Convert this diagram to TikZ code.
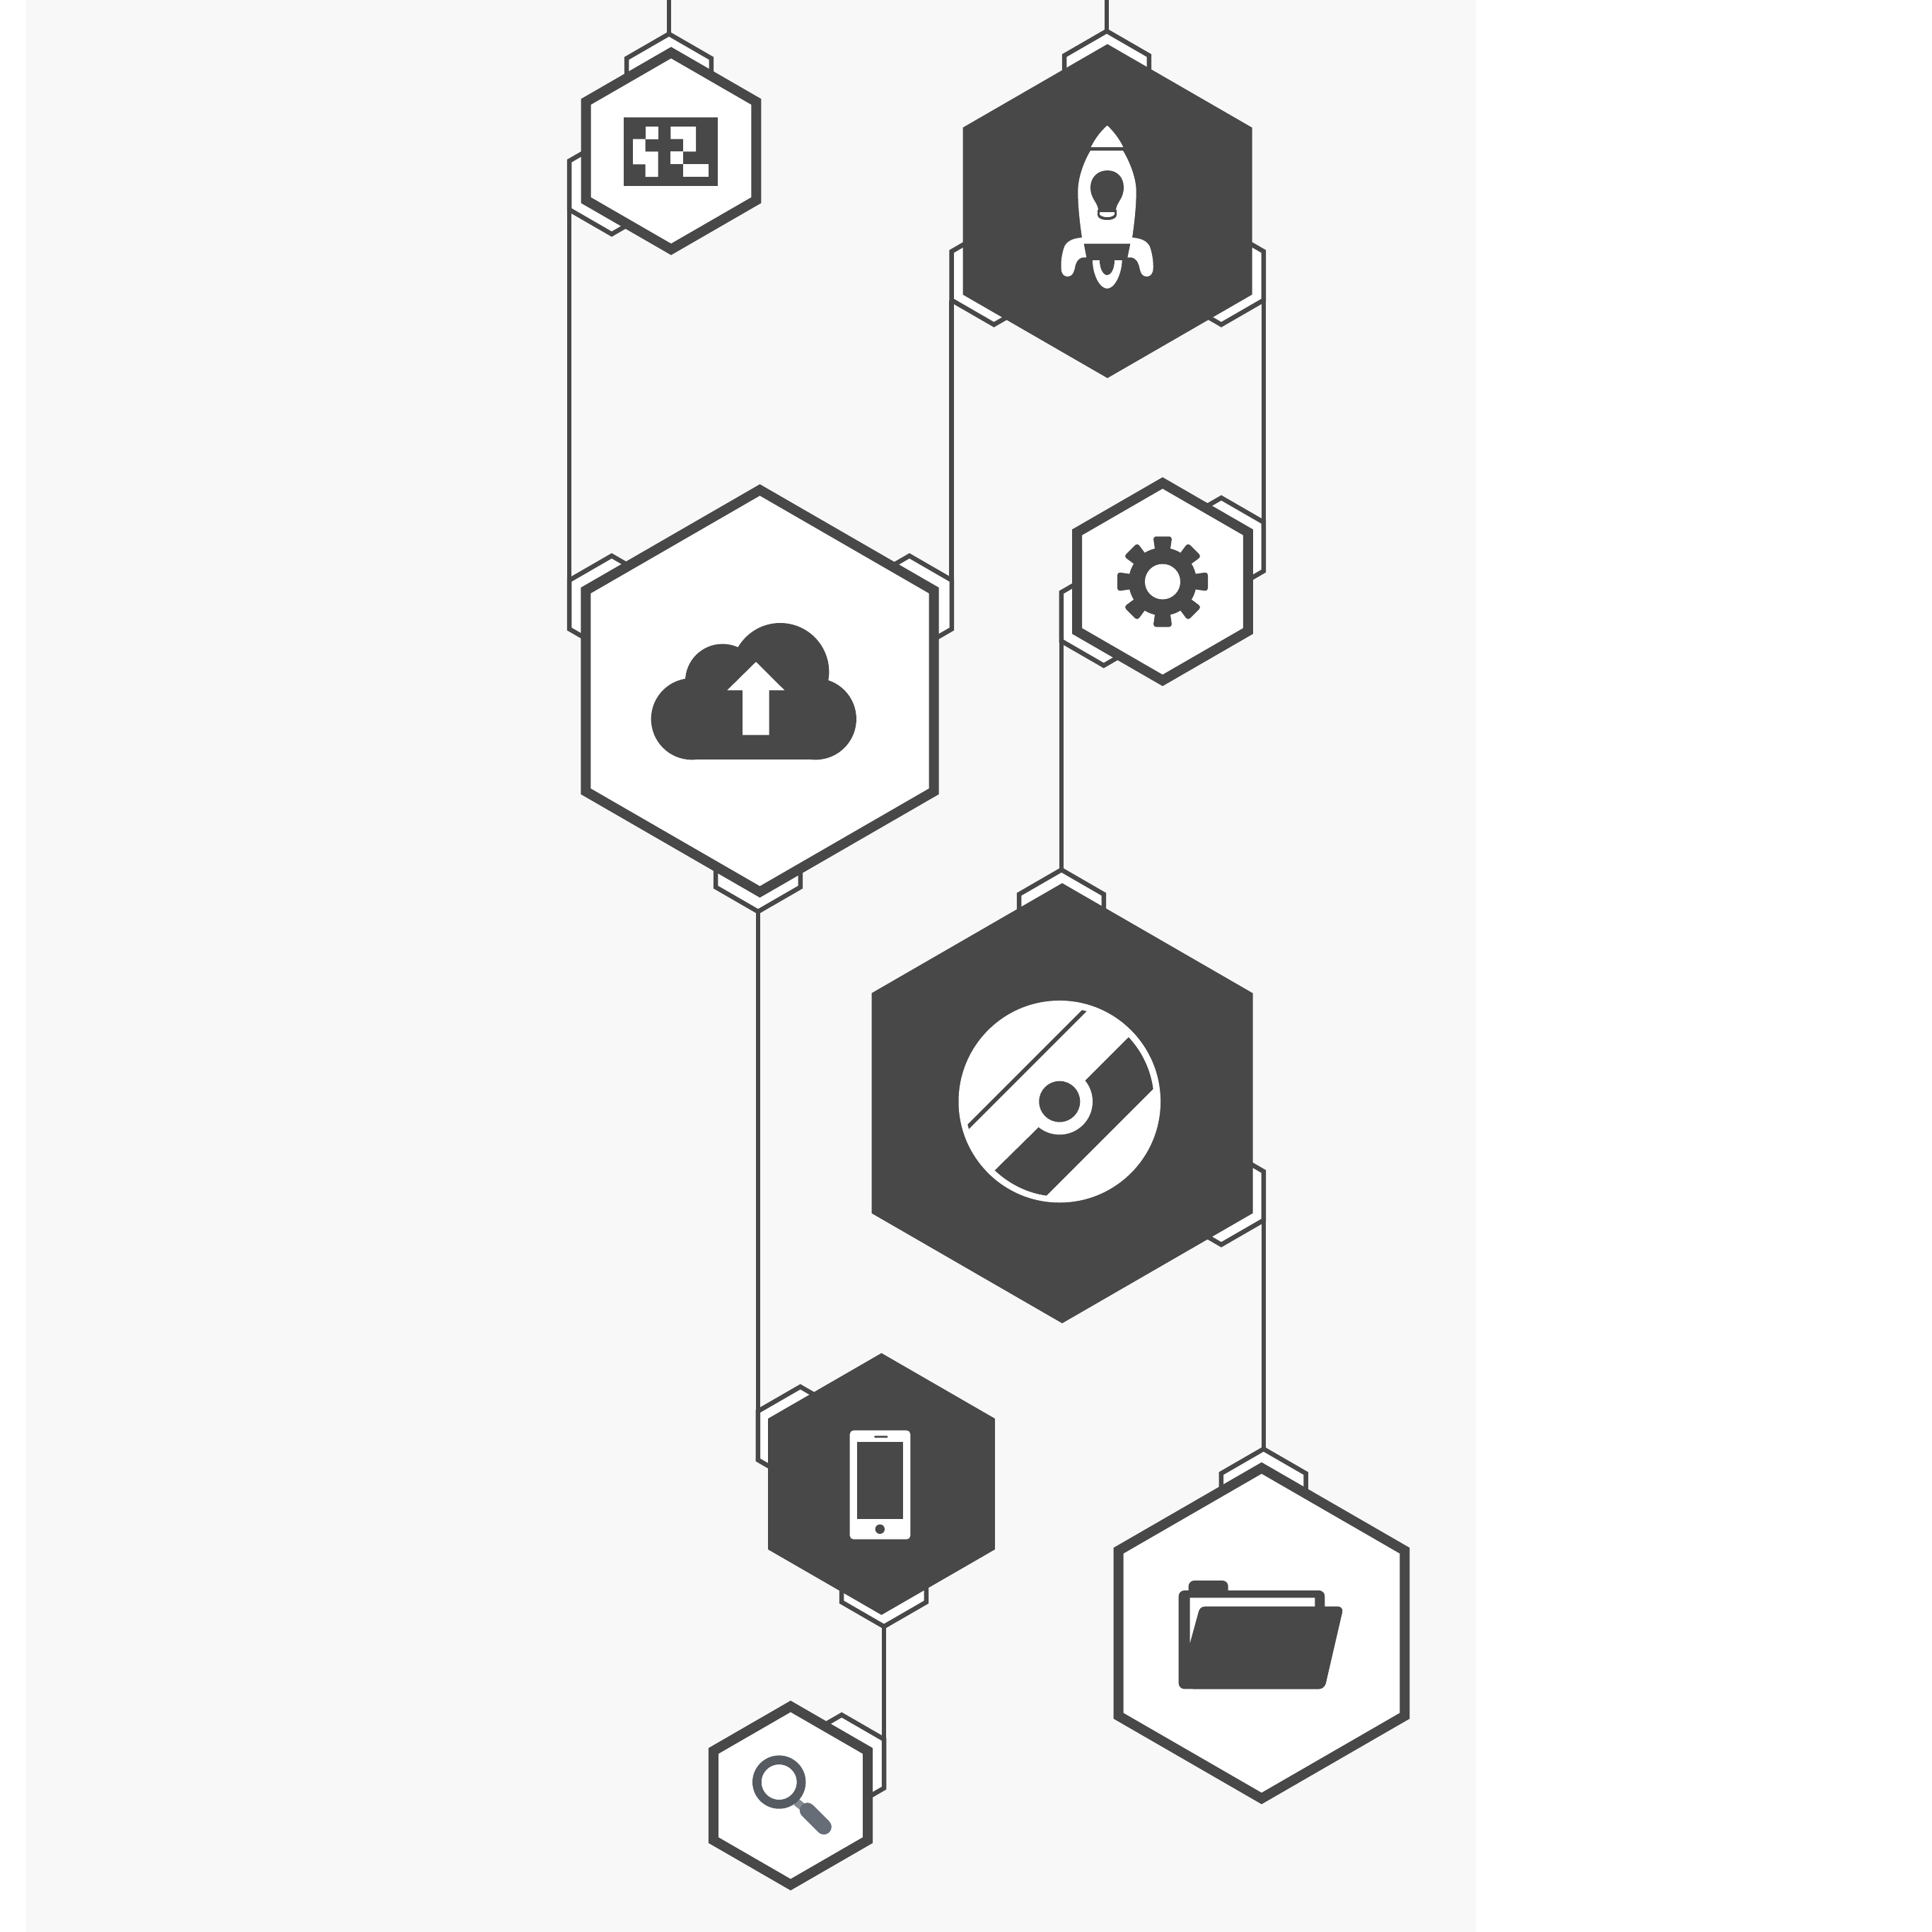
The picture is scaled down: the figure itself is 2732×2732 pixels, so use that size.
\documentclass[tikz,border=0pt]{standalone}
\usepackage{tikz}
\usetikzlibrary{shapes.geometric}
\definecolor{ink}{HTML}{484848}
\definecolor{panel}{HTML}{F8F8F8}
\definecolor{lensring}{HTML}{565B62}
\definecolor{lensgrip}{HTML}{666D77}
\definecolor{lensneck}{HTML}{858B93}

\begin{document}
\begin{tikzpicture}[x=0.01cm, y=-0.01cm,
    hexa/.style = {regular polygon, regular polygon sides=6, regular polygon rotate=-30, inner sep=0pt, outer sep=0pt},
    hexwhite/.style = {hexa, draw=ink, line width=0.14cm, fill=white},
    hexdark/.style = {hexa, fill=ink},
    socket/.style = {hexa, draw=ink, line width=0.065cm, fill=white, minimum size=1.38cm},
    wire/.style = {draw=ink, line width=0.065cm}]

    % page
    \useasboundingbox (0,0) rectangle (2732,2732);
    \fill[white] (0,0) rectangle (2732,2732);
    \fill[panel] (37,0) rectangle (2087,2732);

    % sockets
    \node[socket] (qrtop) at (946,117) {};
    \node[socket] (qrleft) at (865,262) {};
    \node[socket] (cloudleft) at (865,855) {};
    \node[socket] (cloudright) at (1286,855) {};
    \node[socket] (cloudbot) at (1072,1220) {};
    \node[socket] (rockettop) at (1565,113) {};
    \node[socket] (rocketleft) at (1405.52,390) {};
    \node[socket] (rocketright) at (1727,390) {};
    \node[socket] (gearright) at (1727,773) {};
    \node[socket] (gearleft) at (1560.76,872) {};
    \node[socket] (disctop) at (1501,1299) {};
    \node[socket] (discright) at (1727,1691) {};
    \node[socket] (foldertop) at (1786.76,2118) {};
    \node[socket] (phoneleft) at (1131.76,2030) {};
    \node[socket] (phonebot) at (1250,2231) {};
    \node[socket] (lensright) at (1190.24,2494) {};

    % wires
    \coordinate (qrin) at (946,0);
    \coordinate (rocketin) at (1565,0);
    \draw[wire] (qrtop.corner 2 |- qrin) -- (qrtop.corner 2);
    \draw[wire] (rockettop.corner 2 |- rocketin) -- (rockettop.corner 2);
    \draw[wire] (qrleft.corner 4) -- (qrleft.corner 4 |- cloudleft.corner 3);
    \draw[wire] (rocketleft.corner 4) -- (rocketleft.corner 4 |- cloudright.corner 1);
    \draw[wire] (rocketright.corner 6) -- (rocketright.corner 6 |- gearright.corner 1);
    \draw[wire] (gearleft.corner 4) -- (gearleft.corner 4 |- disctop.corner 2);
    \draw[wire] (discright.corner 6) -- (discright.corner 6 |- foldertop.corner 2);
    \draw[wire] (cloudbot.corner 5) -- (cloudbot.corner 5 |- phoneleft.corner 3);
    \draw[wire] (phonebot.corner 5) -- (phonebot.corner 5 |- lensright.corner 1);

    % hexagons
    \node[hexwhite, minimum size=2.78cm] (qr) at (949,213.5) {};
    \node[hexdark, minimum size=4.72cm] (rocket) at (1566,298.5) {};
    \node[hexwhite, minimum size=5.68cm] (cloud) at (1074.5,977) {};
    \node[hexwhite, minimum size=2.79cm] (gear) at (1644,822.5) {};
    \node[hexdark, minimum size=6.22cm] (disc) at (1502,1560) {};
    \node[hexdark, minimum size=3.70cm] (phone) at (1246.5,2098.5) {};
    \node[hexwhite, minimum size=4.67cm] (folder) at (1784,2309.5) {};
    \node[hexwhite, minimum size=2.52cm] (lens) at (1118,2539) {};

    % qr code
    \fill[ink] (882,166) rectangle (1015,263);
    \fill[white] (912.7,179) rectangle (930.7,196.7);
    \fill[white] (895,196.7) -- (912.7,196.7) -- (912.7,214.3) -- (930.7,214.3) -- (930.7,250) -- (912.7,250) -- (912.7,232.3) -- (895,232.3) -- cycle;
    \fill[white] (948.3,179) -- (984,179) -- (984,214.3) -- (966,214.3) -- (966,196.7) -- (948.3,196.7) -- cycle;
    \fill[white] (948.3,214.3) rectangle (966,232.3);
    \fill[white] (966,232.3) rectangle (1002.3,250);

    % rocket
    \fill[white] (1565.7,177.5) .. controls (1575,186) and (1583,197) .. (1588.3,208) -- (1542.7,208) .. controls (1548,197) and (1556,186) .. cycle;
    \fill[white] (1542,213) -- (1588,213) .. controls (1598,230) and (1606.7,252) .. (1606.7,271) .. controls (1606.7,292) and (1604,315) .. (1601,336)
        .. controls (1618,337) and (1625,344) .. (1627,352) .. controls (1630,362) and (1631,372) .. (1630.7,380) .. controls (1630,388) and (1626,391) .. (1621.7,391)
        .. controls (1616,391) and (1613,387) .. (1611.7,380) .. controls (1610,372) and (1608,366) .. (1600,364) -- (1531,364)
        .. controls (1523,366) and (1521,372) .. (1519.7,380) .. controls (1518,387) and (1515,391) .. (1509.7,391) .. controls (1505,391) and (1501,388) .. (1500.7,380)
        .. controls (1500,372) and (1501,362) .. (1504,352) .. controls (1506,344) and (1513,337) .. (1530,336) .. controls (1527,315) and (1524.3,292) .. (1524.3,271)
        .. controls (1524.3,252) and (1532,230) .. cycle;
    \fill[ink] (1532.7,344.6) -- (1598.3,344.6) -- (1594,366) -- (1536.7,366) -- cycle;
    \fill[white] (1545,368) -- (1586.7,368) .. controls (1586,388) and (1576,408) .. (1565.7,408) .. controls (1555,408) and (1545,388) .. cycle;
    \fill[ink] (1555,368) -- (1576,368) .. controls (1576,380) and (1571,389) .. (1565.7,389) .. controls (1560,389) and (1555,380) .. cycle;
    \fill[ink] (1553,298) .. controls (1553,286) and (1542,282) .. (1542,265) .. controls (1542,251) and (1552,241) .. (1566,241) .. controls (1580,241) and (1589,251) .. (1589,265) .. controls (1589,282) and (1578,286) .. (1578,298) -- cycle;
    \fill[ink] (1552,297) -- (1579,297) -- (1579,304) .. controls (1579,308) and (1574,311) .. (1566,311) .. controls (1557,311) and (1552,308) .. (1552,304) -- cycle;
    \fill[white] (1555,300) -- (1576,300) -- (1576,303) .. controls (1574,306) and (1570,307) .. (1566,307) .. controls (1561,307) and (1557,306) .. (1555,303) -- cycle;

    % cloud
    \fill[ink] (978.3,1016.7) circle (0.576cm);
    \fill[ink] (1153.3,1016.7) circle (0.576cm);
    \fill[ink] (1021.7,963.3) circle (0.527cm);
    \fill[ink] (1103.3,950) circle (0.69cm);
    \fill[ink] (978.3,985) rectangle (1153.3,1074.3);
    \fill[white] (1069,936) -- (1109.3,976) -- (1087.7,976) -- (1087.7,1039.3) -- (1050,1039.3) -- (1050,976) -- (1028.3,976) -- cycle;

    % gear
    \foreach \ang in {0,45,...,315}
        \fill[ink, rounded corners=1.2pt, shift={(gear.center)}, rotate=\ang] (-13.5,-64) -- (13.5,-64) -- (10,-40) -- (-10,-40) -- cycle;
    \fill[ink] (gear.center) circle (0.48cm);
    \fill[white] (gear.center) circle (0.25cm);

    % disc
    \fill[white] (1498.3,1557.7) circle (1.427cm);
    \fill[ink] (1368.3,1590) -- (1530,1428.3) -- (1536.7,1430) -- (1370,1596.7) -- cycle;
    \fill[ink] (1596,1466.7) .. controls (1614.9,1487) and (1627,1512.5) .. (1630.7,1540) -- (1480,1690.7)
        .. controls (1452.5,1687) and (1426.9,1674) .. (1406.7,1655) -- (1467.7,1595) -- (1535,1527.7) -- cycle;
    \fill[white] (1498.3,1557.7) circle (0.467cm);
    \fill[ink] (1498.3,1557.7) circle (0.29cm);

    % phone
    \fill[white, rounded corners=1.5pt] (1201.7,2022.7) rectangle (1287.3,2176.7);
    \fill[ink] (1212.3,2038.7) rectangle (1276.7,2147.7);
    \fill[ink, rounded corners=0.4pt] (1236,2030.3) rectangle (1255.7,2033);
    \fill[ink] (1244.3,2162.3) circle (0.067cm);

    % folder
    \fill[ink, rounded corners=2.3pt] (1666.7,2249) rectangle (1873.3,2388.3);
    \fill[ink, rounded corners=2.3pt] (1680.7,2235) rectangle (1736.7,2262);
    \fill[ink, rounded corners=2.3pt] (1690,2271.7) -- (1900,2271.7) -- (1873,2388.3) -- (1680,2388.3) -- cycle;
    \fill[white] (1682.7,2259.3) -- (1859.3,2259.3) -- (1859.3,2271.7) -- (1703.3,2271.7) .. controls (1697,2271.7) and (1695,2277) .. (1694,2282) -- (1682.7,2323.3) -- cycle;

    % magnifier
    \draw[lensneck, line width=0.11cm] (1126,2548) -- (1141,2560);
    \draw[lensgrip, line width=0.217cm, line cap=round] (1141.7,2560) -- (1165,2583.3);
    \draw[lensring, line width=0.127cm] (1101.7,2520) circle (0.313cm);

\end{tikzpicture}
\end{document}
